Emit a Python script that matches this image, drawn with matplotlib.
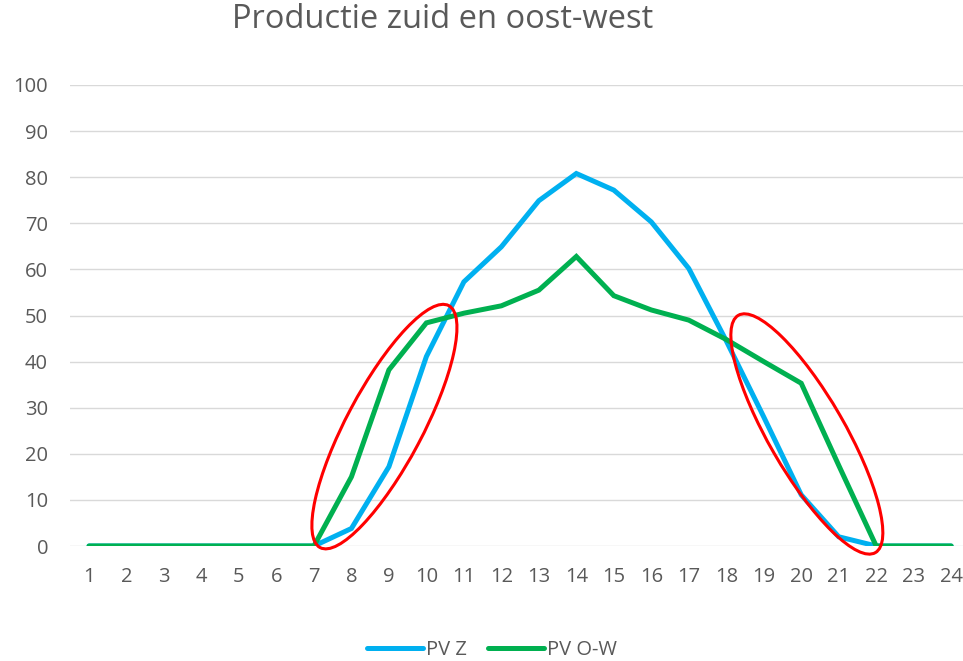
import matplotlib
matplotlib.use("Agg")
import matplotlib.pyplot as plt
from matplotlib.patches import Ellipse
from matplotlib.transforms import ScaledTranslation

plt.rcParams['font.family'] = ['Open Sans', 'DejaVu Sans']

# === Dados ===
hours = list(range(1, 25))
pv_z = [0, 0, 0, 0, 0, 0, 0, 3.8, 17.2, 41.1, 57.3, 64.9, 74.9, 80.8,
        77.2, 70.3, 60.2, 44.5, 28.0, 11.1, 2.0, 0, 0, 0]
pv_ow = [0, 0, 0, 0, 0, 0, 0, 15.0, 38.2, 48.4, 50.5, 52.1, 55.5, 62.8,
         54.3, 51.2, 49.0, 44.8, 40.0, 35.3, 17.5, 0, 0, 0]
labels = ["PV Z", "PV O-W"]
title = "Productie zuid en oost-west"

# ellipses: centre (uur, waarde), breedte/hoogte in px, hoek
ellipses = [((8.88, 25.9), 274, 76, 62), ((20.15, 24.3), 274, 76, -60)]

grey = '#595959'

# === Figura ===
fig = plt.figure(figsize=(9.63, 6.61), dpi=100)
ax = fig.add_axes([70.3 / 963, 1 - 546 / 661, 899.6 / 963, 461 / 661])

ax.plot(hours, pv_z, color='#00B0F0', lw=3.6, solid_capstyle='round',
        solid_joinstyle='miter', label=labels[0], zorder=3)
ax.plot(hours, pv_ow, color='#00B050', lw=3.6, solid_capstyle='round',
        solid_joinstyle='miter', label=labels[1], zorder=3)

for (xc, yc), w, h, ang in ellipses:
    trans = fig.dpi_scale_trans + ScaledTranslation(xc, yc, ax.transData)
    e = Ellipse((0, 0), w / 100, h / 100, angle=ang, transform=trans,
                fill=False, edgecolor='#FF0000', lw=2.2, zorder=4, clip_on=False)
    ax.add_patch(e)

ax.set_xlim(0.5, 24.5)
ax.set_ylim(0, 100)
ax.set_xticks(hours)
ax.set_yticks(range(0, 101, 10))
ax.grid(axis='y', color='#D9D9D9', lw=1.0)
ax.set_axisbelow(True)
for s in ax.spines.values():
    s.set_visible(False)
ax.tick_params(length=0, labelsize=14.5, labelcolor=grey)
ax.tick_params(axis='y', pad=16)
ax.tick_params(axis='x', pad=15)

fig.text(443 / 963, 1 - 20 / 661, title, ha='center', va='center',
         fontsize=23.5, color=grey)

fig.legend(loc='center', bbox_to_anchor=(492 / 963, 1 - 650 / 661), ncol=2,
           frameon=False, fontsize=14.5, labelcolor=grey, handlelength=2.8,
           handletextpad=0.15, columnspacing=1.0)

fig.savefig("out.png", dpi=100)
